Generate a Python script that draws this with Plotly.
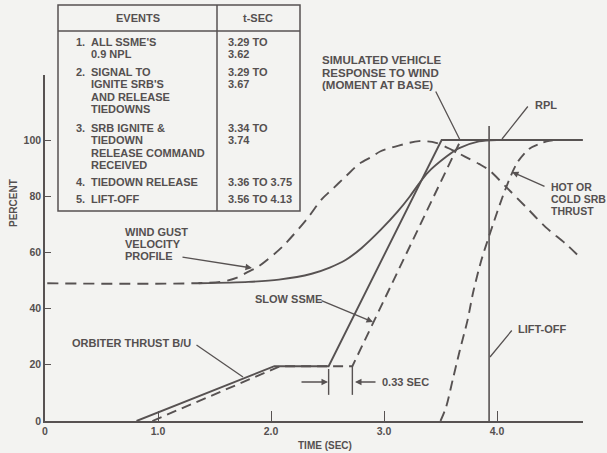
import plotly.graph_objects as go

# ---- data (time in seconds, percent) ----
# Nominal SSME thrust build-up (solid) and slow SSME (dashed)
ssme_t = [0.81, 2.03, 2.51, 3.51, 4.76]
ssme_v = [0, 19.5, 19.5, 100, 100]
slow_t = [0.95, 2.08, 2.72, 3.68]
slow_v = [0, 19.5, 19.5, 100]

# Wind gust velocity profile (dashed)
gust_t = [0.02, 1.55, 1.70, 1.78, 1.89, 2.10, 2.32, 2.45, 2.53, 2.66, 2.78, 2.89,
          2.97, 3.13, 3.31, 3.46, 3.60, 3.72, 3.84, 3.93, 4.08, 4.26, 4.43, 4.61, 4.74]
gust_v = [49, 49.5, 51, 52.7, 55, 62, 72, 79, 82, 87, 91.5, 94,
          96, 98, 99.6, 99, 96.5, 94, 91.5, 89.3, 83.3, 76, 69, 63, 58]

# Simulated vehicle response to wind, moment at base (solid)
resp_t = [1.36, 1.80, 2.07, 2.36, 2.52, 2.66, 2.80, 2.97, 3.12, 3.23, 3.31, 3.39, 3.55, 3.66, 3.84, 4.00]
resp_v = [49, 49.5, 50.3, 52.4, 54.6, 57.3, 61.5, 68, 74.5, 80, 84.5, 88.5, 94, 97, 99.5, 100]

# Hot or cold SRB thrust (dashed)
srb_t = [3.50, 3.55, 3.61, 3.67, 3.74, 3.79, 3.86, 3.94, 4.07, 4.18, 4.29, 4.44, 4.52]
srb_v = [0, 5, 15, 25, 36, 46, 57, 67, 82, 92, 97, 99.5, 100]

# Lift-off instant
liftoff_t = 3.93
liftoff_top = 105

x_ticks = [0, 1, 2, 3, 4]
x_labels = ["0", "1.0", "2.0", "3.0", "4.0"]
y_ticks = [0, 20, 40, 60, 80, 100]

events = [
    (["1.", "ALL SSME'S", "0.9 NPL"], ["3.29 TO", "3.62"]),
    (["2.", "SIGNAL TO", "IGNITE SRB'S", "AND RELEASE", "TIEDOWNS"], ["3.29 TO", "3.67"]),
    (["3.", "SRB IGNITE &", "TIEDOWN", "RELEASE COMMAND", "RECEIVED"], ["3.34 TO", "3.74"]),
    (["4.", "TIEDOWN RELEASE"], ["3.36 TO 3.75"]),
    (["5.", "LIFT-OFF"], ["3.56 TO 4.13"]),
]

# ---- styling ----
W, H = 607, 453
ML, MR, MT, MB = 45, 24, 75, 32
XS = 113.0   # px per second
YS = 2.81    # px per percent
INK = "#575252"
TXT = "#555050"
BG = "#f3f3f1"
FONT = "Liberation Sans, Arial, sans-serif"
FS = 11
DASH = "10px,6px"


def pxx(x):
    return (x - ML) / (W - ML - MR)


def pxy(y):
    return (H - MB - y) / (H - MT - MB)


fig = go.Figure()


def line(t, v, dash=None, width=1.9):
    fig.add_trace(go.Scatter(x=t, y=v, mode="lines", hoverinfo="skip",
                             line=dict(color=INK, width=width, dash=dash, shape="spline", smoothing=0.8)))


def poly(t, v, dash=None, width=1.9):
    fig.add_trace(go.Scatter(x=t, y=v, mode="lines", hoverinfo="skip",
                             line=dict(color=INK, width=width, dash=dash)))


poly(ssme_t, ssme_v)
poly(slow_t, slow_v, dash=DASH)
line(gust_t, gust_v, dash="11px,7px")
line(resp_t, resp_v)
line(srb_t, srb_v, dash=DASH)
poly([liftoff_t, liftoff_t], [0, liftoff_top], width=1.6)

annotations = []


def label(x, y, s, anchor="left", size=FS):
    annotations.append(dict(x=pxx(x), y=pxy(y), xref="paper", yref="paper", text="<b>%s</b>" % s,
                            showarrow=False, xanchor=anchor, yanchor="middle",
                            font=dict(family=FONT, size=size, color=TXT)))


def pointer(head, tail, head_style=2):
    hx, hy = head
    tx, ty = tail
    annotations.append(dict(x=pxx(hx), y=pxy(hy), xref="paper", yref="paper",
                            ax=tx - hx, ay=ty - hy, axref="pixel", ayref="pixel",
                            text="", showarrow=True, arrowhead=head_style, arrowsize=1,
                            arrowwidth=1.3, arrowcolor=INK, standoff=0, startstandoff=0))


# table of events
shapes = []
tb = dict(x0=pxx(58), x1=pxx(300), y0=pxy(5), y1=pxy(211))
shapes.append(dict(type="rect", xref="paper", yref="paper", line=dict(color=INK, width=1.5), **tb))
shapes.append(dict(type="line", xref="paper", yref="paper", x0=pxx(58), x1=pxx(300),
                   y0=pxy(31), y1=pxy(31), line=dict(color=INK, width=1.5)))
shapes.append(dict(type="line", xref="paper", yref="paper", x0=pxx(217), x1=pxx(217),
                   y0=pxy(5), y1=pxy(211), line=dict(color=INK, width=1.5)))
label(137.5, 18, "EVENTS", anchor="center")
label(258, 18, "t-SEC", anchor="center")

row_y = [42, 72, 128, 182, 199]
LS = 12.3
for (left, right), y0 in zip(events, row_y):
    label(74, y0, left[0])
    for i, s in enumerate(left[1:]):
        label(89, y0 + i * LS, s)
    for i, s in enumerate(right):
        label(226, y0 + i * LS, s)

# curve callouts
for i, s in enumerate(["SIMULATED VEHICLE", "RESPONSE TO WIND", "(MOMENT AT BASE)"]):
    label(320, 60 + i * 12.5, s, size=11.5)
pointer((460, 140), (435, 90), head_style=0)

label(533, 105, "RPL")
pointer((502, 139), (529, 105), head_style=0)

for i, s in enumerate(["HOT OR", "COLD SRB", "THRUST"]):
    label(549, 187 + i * 12, s, size=10.5)
pointer((512, 172), (546, 187))

for i, s in enumerate(["WIND GUST", "VELOCITY", "PROFILE"]):
    label(123, 232 + i * 12, s)
pointer((252, 268), (181, 257))

label(253, 299, "SLOW SSME")
pointer((373, 322), (320, 300))

label(70, 343, "ORBITER THRUST B/U")
pointer((243, 377), (195, 344), head_style=0)

label(380, 382, "0.33 SEC")
pointer((328, 382), (300, 382))
pointer((355, 382), (377, 382))
for t_mark, v_top in ((ssme_t[2], 18.5), (slow_t[2], 19.5)):
    shapes.append(dict(type="line", xref="x", yref="y", x0=t_mark, x1=t_mark,
                       y0=9.3, y1=v_top, line=dict(color=INK, width=1.4)))

label(516, 329, "LIFT-OFF")
pointer((490, 357), (513, 329), head_style=0)

# axis titles
label(325, 445, "TIME (SEC)", anchor="center", size=10)
annotations.append(dict(x=pxx(13), y=pxy(203), xref="paper", yref="paper", text="<b>PERCENT</b>",
                        textangle=-90, showarrow=False, xanchor="center", yanchor="middle",
                        font=dict(family=FONT, size=10, color=TXT)))

fig.update_layout(
    width=W, height=H, autosize=False,
    margin=dict(l=ML, r=MR, t=MT, b=MB, pad=0),
    paper_bgcolor=BG, plot_bgcolor=BG,
    showlegend=False,
    annotations=annotations, shapes=shapes,
    xaxis=dict(range=[0, (W - ML - MR) / XS], showgrid=False, zeroline=False,
               showline=True, linecolor=INK, linewidth=1.6,
               ticks="inside", ticklen=10, tickwidth=1.4, tickcolor=INK,
               tickvals=x_ticks, ticktext=x_labels,
               tickfont=dict(family=FONT, size=10.5, color=TXT, weight="bold")),
    yaxis=dict(range=[0, (H - MT - MB) / YS], showgrid=False, zeroline=False,
               showline=True, linecolor=INK, linewidth=1.6,
               ticks="inside", ticklen=6, tickwidth=1.4, tickcolor=INK,
               tickvals=y_ticks,
               tickfont=dict(family=FONT, size=10.5, color=TXT, weight="bold")),
)

fig.write_html("out.html")
